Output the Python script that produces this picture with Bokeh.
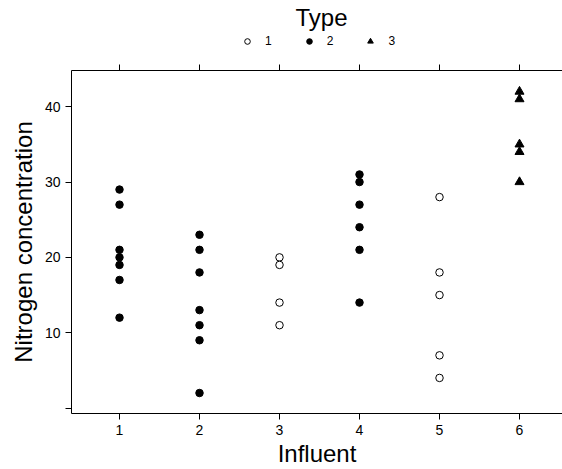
from bokeh.plotting import figure
from bokeh.models import Range1d, LinearAxis, FixedTicker, Legend, LegendItem, ColumnDataSource, Title
from bokeh.layouts import column
from bokeh.embed import file_html
from bokeh.resources import INLINE

# ---- data ----
influent = [1, 1, 1, 1, 1, 1, 1,
            2, 2, 2, 2, 2, 2, 2,
            3, 3, 3, 3,
            4, 4, 4, 4, 4, 4,
            5, 5, 5, 5, 5,
            6, 6, 6, 6, 6]
nitrogen = [29, 27, 21, 20, 19, 17, 12,
            23, 21, 18, 13, 11, 9, 2,
            20, 19, 14, 11,
            31, 30, 27, 24, 21, 14,
            28, 18, 15, 7, 4,
            42, 41, 35, 34, 30]
ntype = [2, 2, 2, 2, 2, 2, 2,
         2, 2, 2, 2, 2, 2, 2,
         1, 1, 1, 1,
         2, 2, 2, 2, 2, 2,
         1, 1, 1, 1, 1,
         3, 3, 3, 3, 3]
type_levels = [1, 2, 3]
type_labels = ["1", "2", "3"]
legend_title = "Type"
x_ticks = [1, 2, 3, 4, 5, 6]
y_ticks = [0, 10, 20, 30, 40]
y_tick_labels = ["", "10", "20", "30", "40"]

FONT = "Liberation Sans"
W = 562
LEFT = 71
TOP_H = 50
MAIN_TOP = 20
MAIN_H = 469 - TOP_H

marker_styles = {
    1: dict(marker="circle", size=7.5, fill_color="white", line_color="black", line_width=1),
    2: dict(marker="circle", size=7.5, fill_color="black", line_color="black", line_width=1),
    3: dict(marker="triangle", size=9, fill_color="black", line_color="black", line_width=1),
}

sources = {}
for lvl in type_levels:
    xs = [x for x, t in zip(influent, ntype) if t == lvl]
    ys = [y for y, t in zip(nitrogen, ntype) if t == lvl]
    sources[lvl] = ColumnDataSource(dict(x=xs, y=ys))

# ---------------- main panel ----------------
p = figure(width=W, height=MAIN_H, title=None,
           x_range=Range1d(0.4, 6.5375), y_range=Range1d(-0.72, 44.8),
           output_backend="svg", toolbar_location=None,
           min_border_left=LEFT, min_border_right=0,
           min_border_top=MAIN_TOP, min_border_bottom=56)
p.grid.visible = False
p.outline_line_color = None
p.background_fill_color = "white"
p.border_fill_color = "white"

def style_axis(ax):
    ax.axis_line_color = "black"
    ax.axis_line_width = 1
    ax.major_tick_line_color = "black"
    ax.major_tick_out = 6
    ax.major_tick_in = 0
    ax.minor_tick_line_color = None
    ax.major_label_text_font = FONT
    ax.major_label_text_font_size = "14px"
    ax.major_label_text_color = "black"
    ax.axis_label_text_font = FONT
    ax.axis_label_text_font_size = "24px"
    ax.axis_label_text_font_style = "normal"
    ax.axis_label_text_color = "black"

xa = p.xaxis[0]
style_axis(xa)
xa.ticker = FixedTicker(ticks=x_ticks)
xa.axis_label = "Influent"
xa.major_label_standoff = 5
xa.axis_label_standoff = 2

ya = p.yaxis[0]
style_axis(ya)
ya.ticker = FixedTicker(ticks=y_ticks)
ya.major_label_overrides = {t: l for t, l in zip(y_ticks, y_tick_labels)}
ya.axis_label = "Nitrogen concentration"
ya.major_label_standoff = 5
ya.axis_label_standoff = 5

top = LinearAxis(ticker=FixedTicker(ticks=x_ticks))
style_axis(top)
top.major_label_overrides = {t: "" for t in x_ticks}
top.major_label_standoff = 0
top.major_label_text_font_size = "1px"
p.add_layout(top, "above")

for lvl in type_levels:
    p.scatter("x", "y", source=sources[lvl], **marker_styles[lvl])

# ---------------- key strip (title + legend) ----------------
k = figure(width=W, height=TOP_H,
           x_range=Range1d(0, 1), y_range=Range1d(100, 200),
           x_axis_location=None, y_axis_location=None,
           output_backend="svg", toolbar_location=None,
           min_border_left=LEFT, min_border_right=0,
           min_border_top=30, min_border_bottom=0)
k.title = Title(text=legend_title, align="left", offset=224, standoff=0,
                vertical_align="bottom", text_font=FONT, text_font_size="24px",
                text_font_style="normal", text_color="black")
k.grid.visible = False
k.outline_line_color = None
k.background_fill_color = "white"
k.border_fill_color = "white"

# same data as the panel, kept outside this strip's view; used only for the key glyphs
key_renderers = [k.scatter("x", "y", source=sources[lvl], **marker_styles[lvl])
                 for lvl in type_levels]

legend = Legend(items=[LegendItem(label=lab, renderers=[r]) for lab, r in zip(type_labels, key_renderers)],
                orientation="horizontal", location=(237 - LEFT, 2),
                border_line_color=None, background_fill_alpha=0,
                label_text_font=FONT, label_text_font_size="12px",
                label_text_color="black",
                glyph_width=20, glyph_height=14, label_width=0, label_height=14,
                label_standoff=8, spacing=27, padding=0, margin=0)
k.add_layout(legend)

layout = column(k, p, spacing=0)
open("out.html", "w").write(file_html(layout, INLINE))
